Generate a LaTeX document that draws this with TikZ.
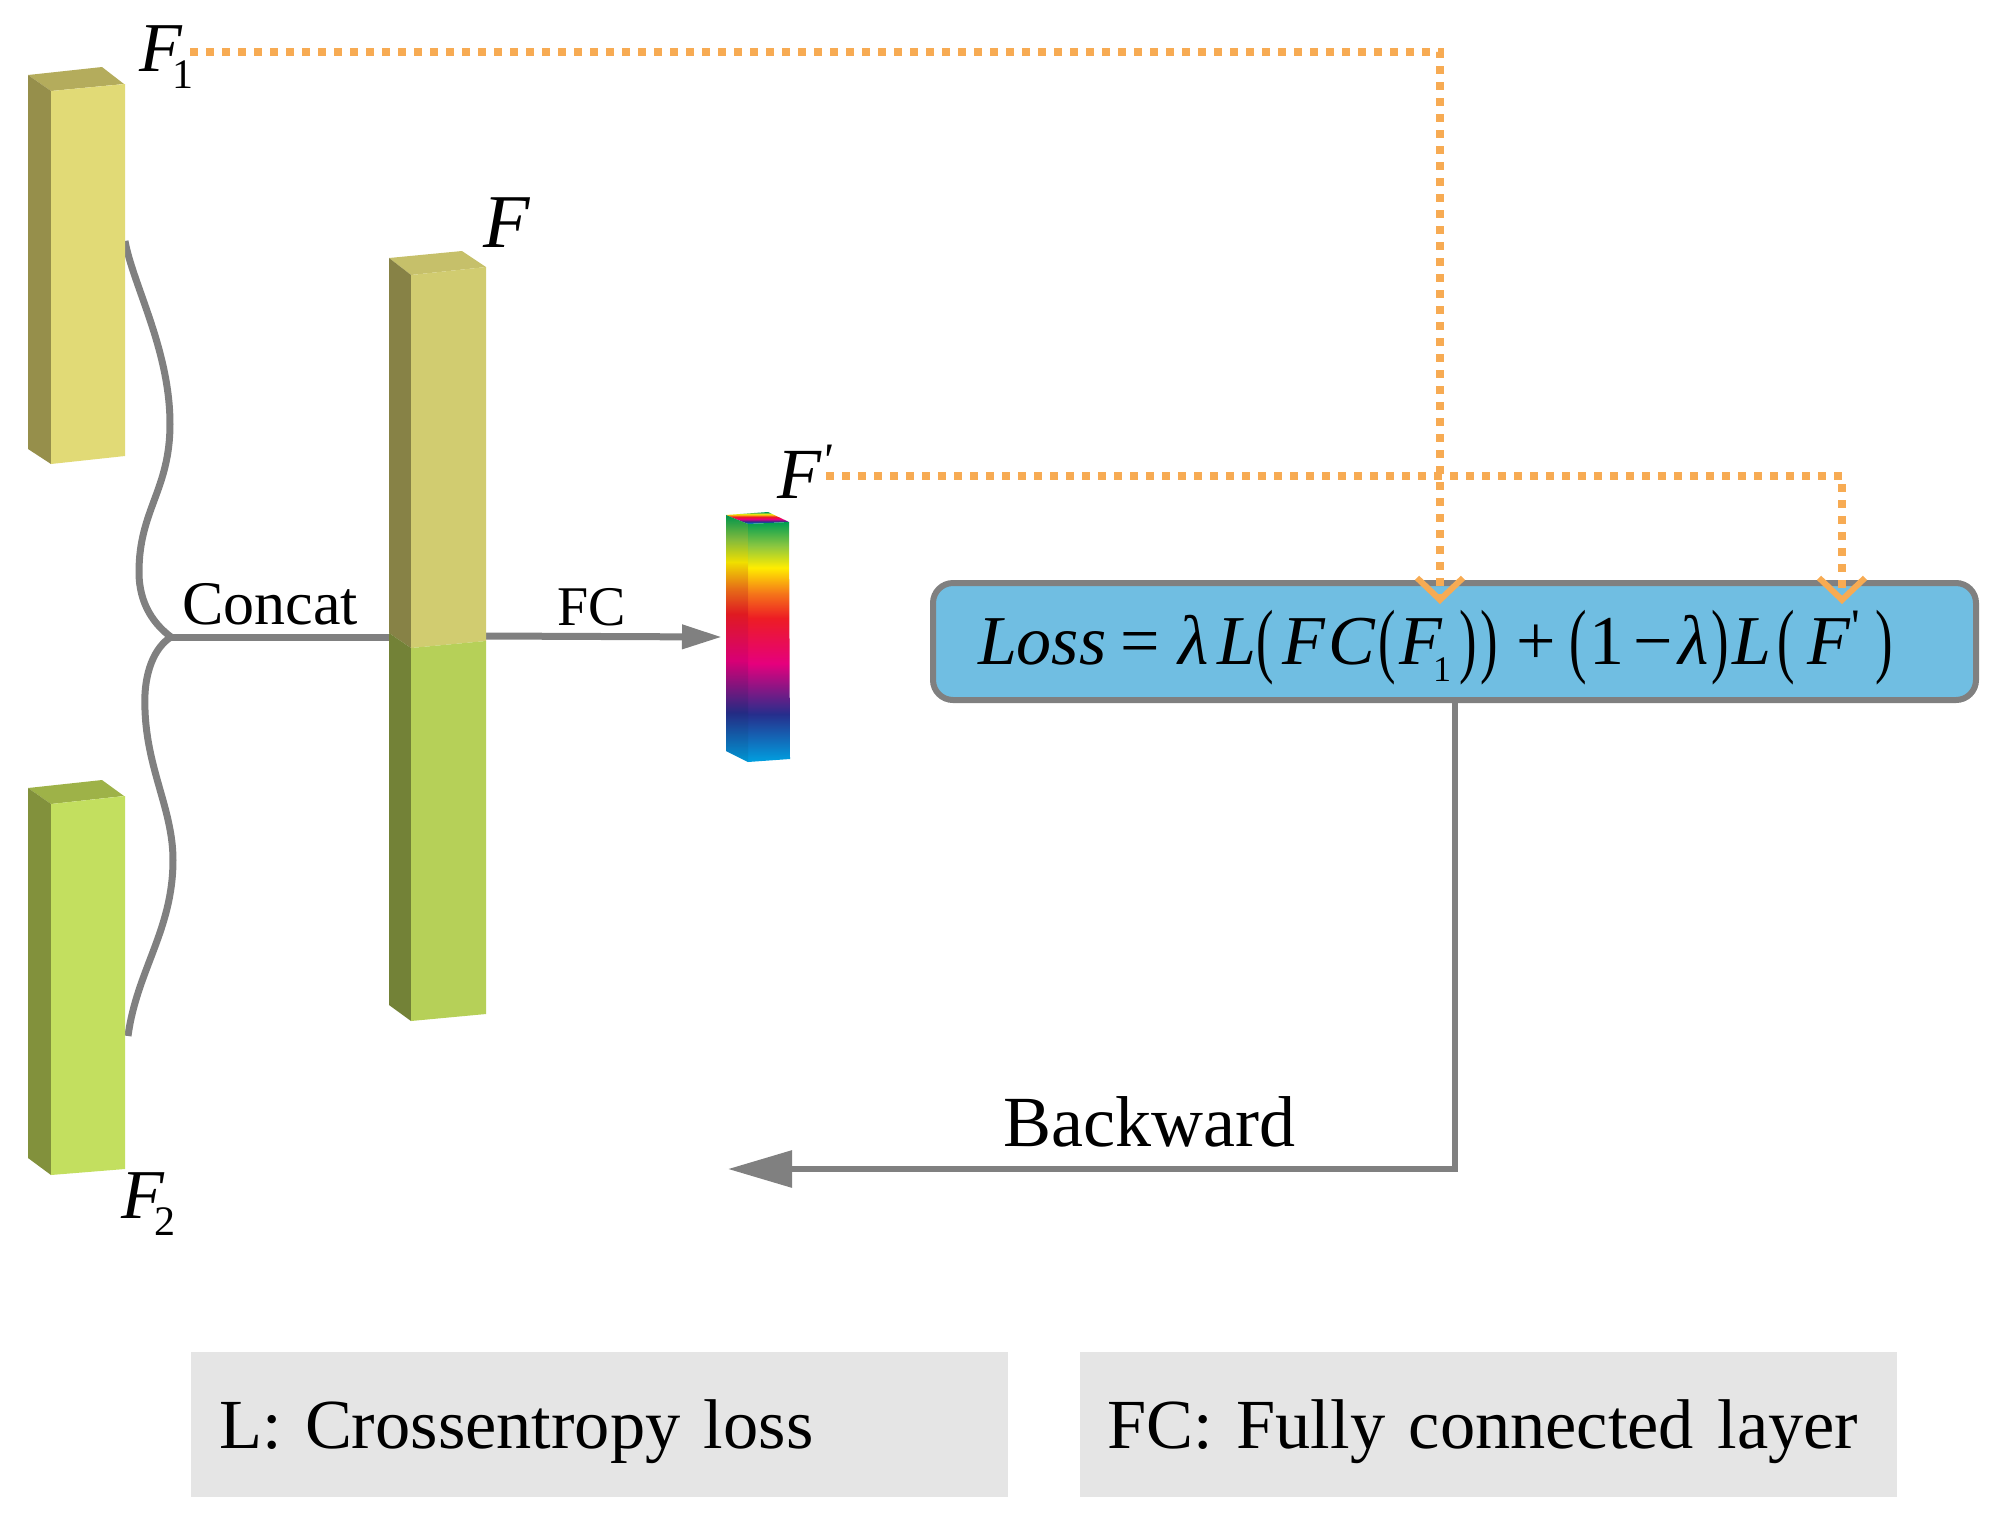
\documentclass[tikz,border=0pt]{standalone}
\usepackage{fontspec}
\usepackage{tikz}
\usepackage{xcolor}
\usetikzlibrary{arrows.meta}
\setmainfont{Liberation Serif}

\definecolor{lineGrey}{RGB}{128,128,128}
\definecolor{dotOrange}{RGB}{247,171,83}
\definecolor{lossBlue}{RGB}{112,190,226}
\definecolor{noteGrey}{RGB}{229,229,229}

\pgfdeclareverticalshading{rainbowbar}{100bp}{
  rgb(0bp)=(0,0.63,0.88); rgb(25bp)=(0,0.63,0.88);
  rgb(35bp)=(0.15,0.18,0.55);
  rgb(45.5bp)=(0.90,0,0.49);
  rgb(55bp)=(0.93,0.11,0.14);
  rgb(60bp)=(0.96,0.45,0.10);
  rgb(65.5bp)=(1,0.93,0);
  rgb(70bp)=(0.55,0.78,0.25);
  rgb(75bp)=(0,0.62,0.32); rgb(100bp)=(0,0.62,0.32)}

\newcommand{\subidx}[2]{\kern-5pt\raisebox{-8.5pt}{\fontsize{#1}{#1}\selectfont #2}}
\newcommand{\primemark}{\raisebox{11pt}{\fontsize{24}{24}\selectfont\textquotesingle}}
\newcommand{\LP}{\raisebox{-1.5pt}{\scalebox{.75}[1.18]{(}}}
\newcommand{\RP}{\raisebox{-1.5pt}{\scalebox{.75}[1.18]{)}}}

\begin{document}
\begin{tikzpicture}[x=0.5pt,y=-0.5pt]
          \tikzset{
            LabelStyle/.style = { inner sep=0pt, anchor=base west,
              font = \fontsize{35}{40}\selectfont\itshape },
            TextStyle/.style = { inner sep=0pt, anchor=base west, text = black },
            LossStyle/.style = { rectangle, rounded corners=10pt, draw = lineGrey,
              line width = 3pt, fill = lossBlue, inner xsep=22.5pt, inner ysep=0pt,
              text width = 476.5pt, align = left, minimum height = 58.5pt,
              text height = 30pt, text depth = 7pt,
              font = \fontsize{35}{40}\selectfont },
            NoteStyle/.style = { rectangle, fill = noteGrey, inner xsep=14pt, inner ysep=0pt,
              text width = 380.5pt, align = left, minimum height = 72.5pt,
              text height = 30pt, text depth = 6pt,
              font = \fontsize{35.2}{40}\selectfont },
            GreyEdge/.style = { draw = lineGrey, line width = 3.5pt },
            DotEdge/.style = { draw = dotOrange, line width = 4pt,
              dash pattern = on 4pt off 4pt,
              -{Straight Barb[length=11pt,width=23pt,line width=3pt]} } }

          \useasboundingbox (0,0) rectangle (1998,1522);

          \node[LabelStyle] (F1LAB) at (139,71) {F\subidx{21}{\upshape 1}};
          \node[LabelStyle] (F2LAB) at (121,1218) {F\subidx{21}{\upshape 2}};
          \node[LabelStyle, font=\fontsize{38}{40}\selectfont\itshape] (FLAB) at (483,247) {F};
          \node[LabelStyle, font=\fontsize{36}{40}\selectfont\itshape] (FPLAB) at (777,498) {F\primemark};
          \node[TextStyle, font=\fontsize{31}{36}\selectfont] (CONCAT) at (182,624) {Concat};
          \node[TextStyle, font=\fontsize{28}{32}\selectfont] (FCLAB) at (557,625) {FC};
          \node[TextStyle, font=\fontsize{36}{40}\selectfont] (BACK) at (1003,1146) {Backward};

          \node[LossStyle] (LOSS) at (1454.5,641.5) {\textit{Loss}\kern7pt=\kern9.5pt\textit{λ}\kern4pt\textit{L}\LP\kern4.5pt\textit{F}\kern1.5pt\textit{C}\kern1pt\LP\kern2pt\textit{F}\subidx{18}{1}\kern4pt\RP\kern2pt\RP\kern9pt+\kern7pt\LP\kern1pt 1\kern4.5pt−\kern3pt\textit{λ}\kern1.5pt\RP\kern1.5pt\textit{L}\kern3pt\LP\kern6.5pt\textit{F}\primemark\kern8pt\RP};
          \node[NoteStyle] (NOTEL) at (599.5,1424.5) {L: Crossentropy loss};
          \node[NoteStyle] (NOTEFC) at (1488,1424.5) {FC: Fully connected layer};

          \coordinate (F1END) at (125,241);
          \coordinate (F2END) at (128,1036);
          \coordinate (JOIN) at (171,637);
          \coordinate (FLEFT) at (389,637);
          \coordinate (FRIGHT) at (486,636);
          \coordinate (RAINBOW) at (722,637);
          \coordinate (BACKBEND) at (1455,1169);
          \coordinate (BACKTIP) at (728,1169);
          \coordinate (F1DOT) at (190,52);
          \coordinate (FPDOT) at (826,476);
          \coordinate (TIPA) at (1440,604);
          \coordinate (TIPB) at (1842,604);

          % brace
          \draw[GreyEdge] (F1END) .. controls (133,285) and (170,350) .. (170,424)
            .. controls (170,490) and (139,510) .. (139,572)
            .. controls (139,605) and (155,625) .. (JOIN)
            .. controls (155,647) and (143,672) .. (145,710)
            .. controls (147,770) and (173,810) .. (173,860)
            .. controls (173,930) and (137,970) .. (F2END);
          \draw[GreyEdge] (JOIN) -- (FLEFT);
          \draw[GreyEdge, -{Triangle[length=20pt,width=11.5pt]}] (FRIGHT) -- (RAINBOW);
          \draw[GreyEdge, line width=3pt, -{Triangle[length=32pt,width=18pt]}]
            (LOSS.south -| BACKBEND) -- (BACKBEND) -- (BACKTIP);

          \draw[DotEdge] (F1DOT) -- (TIPA |- F1DOT) -- (TIPA);
          \draw[DotEdge] (FPDOT) -- (TIPB |- FPDOT) -- (TIPB);

          % feature bars
          \fill[fill={rgb,255:red,180;green,172;blue,92}] (28,75) -- (102,67) -- (124,84) -- (51,91) -- cycle;
          \fill[fill={rgb,255:red,150;green,143;blue,75}] (28,75) -- (51,91) -- (51,464) -- (28,449) -- cycle;
          \fill[fill={rgb,255:red,225;green,218;blue,118}] (51,91) -- (125,84) -- (125,456) -- (51,464) -- cycle;

          \fill[fill={rgb,255:red,158;green,178;blue,72}] (28,788) -- (102,780) -- (124,796) -- (51,804) -- cycle;
          \fill[fill={rgb,255:red,130;green,145;blue,60}] (28,788) -- (51,804) -- (51,1175) -- (28,1158) -- cycle;
          \fill[fill={rgb,255:red,195;green,223;blue,95}] (51,804) -- (125,796) -- (125,1169) -- (51,1175) -- cycle;

          \fill[fill={rgb,255:red,198;green,192;blue,106}] (389,258) -- (462,251) -- (486,267) -- (411,275) -- cycle;
          \fill[fill={rgb,255:red,135;green,130;blue,70}] (389,258) -- (411,275) -- (411,648) -- (389,633) -- cycle;
          \fill[fill={rgb,255:red,209;green,204;blue,112}] (411,275) -- (486,267) -- (486,641) -- (411,648) -- cycle;
          \fill[fill={rgb,255:red,115;green,130;blue,55}] (389,633) -- (411,648) -- (411,1021) -- (389,1005) -- cycle;
          \fill[fill={rgb,255:red,182;green,208;blue,88}] (411,648) -- (486,641) -- (486,1014) -- (411,1021) -- cycle;

          % rainbow bar
          \shade[shading=rainbowbar] (726,515) -- (768,512) -- (789,522) -- (748,524) -- cycle;
          \shade[shading=rainbowbar] (726,515) -- (748,524) -- (748,762) -- (726,751) -- cycle;
          \shade[shading=rainbowbar] (748,524) -- (789,522) -- (790,759) -- (748,762) -- cycle;
          \fill[black, opacity=0.06] (726,515) -- (748,524) -- (748,762) -- (726,751) -- cycle;

\end{tikzpicture}
\end{document}
